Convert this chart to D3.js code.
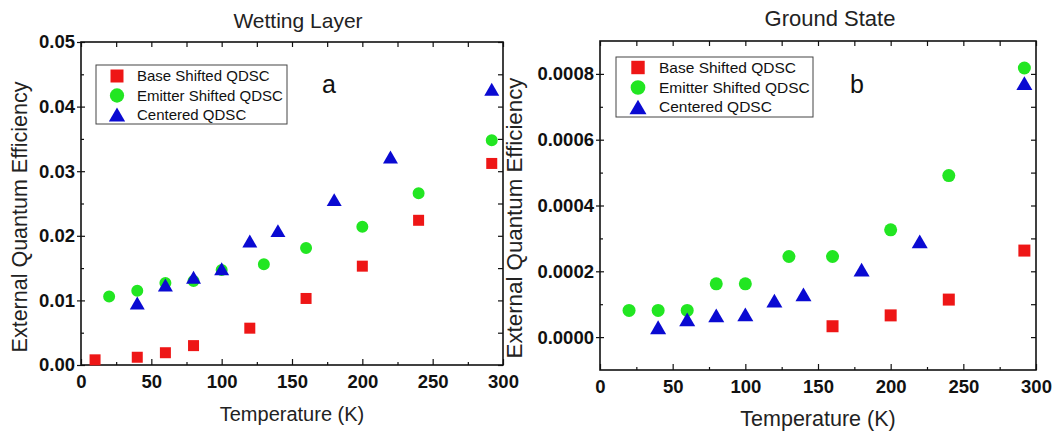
<!DOCTYPE html>
<html>
<head>
<meta charset="utf-8">
<script src="https://cdn.jsdelivr.net/npm/d3@7"></script>
<style>
    body { margin: 0; background: #fff; }
    svg text { font-family: 'Liberation Sans', Arial, sans-serif; }
</style>
</head>
<body>
<div class="chart"></div>
<script>
    'use strict';

    /* sorozatok */
    const seriesNames = ['Base Shifted QDSC', 'Emitter Shifted QDSC', 'Centered QDSC'];
    const seriesColors = ['#ee1616', '#22e622', '#0a0ad2'];
    const seriesShapes = [d3.symbolSquare, d3.symbolCircle, d3.symbolTriangle];

    /* x tengely (K) */
    const xTicks = [0, 50, 100, 150, 200, 250, 300];
    const xMinor = [25, 75, 125, 175, 225, 275];

    /* a: Wetting Layer */
    const wlBaseT = [10, 40, 60, 80, 120, 160, 200, 240, 292];
    const wlBaseEqe = [0.0008, 0.0012, 0.0019, 0.0030, 0.0057, 0.0103, 0.0153, 0.0224, 0.0312];
    const wlEmitT = [20, 40, 60, 80, 100, 130, 160, 200, 240, 292];
    const wlEmitEqe = [0.0106, 0.0115, 0.0127, 0.0130, 0.0147, 0.0156, 0.0181, 0.0214, 0.0266, 0.0348];
    const wlCentT = [40, 60, 80, 100, 120, 140, 180, 220, 292];
    const wlCentEqe = [0.0096, 0.0124, 0.0136, 0.0149, 0.0192, 0.0208, 0.0256, 0.0322, 0.0427];
    const wlYTicks = [0, 0.01, 0.02, 0.03, 0.04, 0.05];
    const wlYMinor = [0.005, 0.015, 0.025, 0.035, 0.045];

    /* b: Ground State */
    const gsBaseT = [160, 200, 240, 292];
    const gsBaseEqe = [0.000033, 0.000066, 0.000114, 0.000263];
    const gsEmitT = [20, 40, 60, 80, 100, 130, 160, 200, 240, 292];
    const gsEmitEqe = [0.000081, 0.000081, 0.000081, 0.000162, 0.000162, 0.000245, 0.000245, 0.000326, 0.000491, 0.000818];
    const gsCentT = [40, 60, 80, 100, 120, 140, 180, 220, 292];
    const gsCentEqe = [0.000030, 0.000054, 0.000066, 0.000069, 0.000111, 0.000130, 0.000205, 0.000291, 0.000772];
    const gsYTicks = [0, 0.0002, 0.0004, 0.0006, 0.0008];
    const gsYMinor = [0.0001, 0.0003, 0.0005, 0.0007];

    const svg = d3.select('.chart').append('svg')
        .attr('width', 1052)
        .attr('height', 433);

    const panels = [{
        left: 81, right: 503, top: 42, bottom: 365,
        yDomain: [0, 0.05], yTicks: wlYTicks, yMinor: wlYMinor, yFormat: d3.format('.2f'),
        series: [[wlBaseT, wlBaseEqe], [wlEmitT, wlEmitEqe], [wlCentT, wlCentEqe]],
        sizes: [121, 113, 97],
        tickFont: 18.5,
        title: 'Wetting Layer', titleX: 298, titleY: 28, titleSize: 21,
        letter: 'a', letterX: 329, letterY: 93,
        xTitleX: 292, xTitleY: 421, xTitleSize: 20,
        yTitleX: 27, yTitleY: 217, yTitleSize: 21.5,
        legend: { x: 96, y: 65, w: 191, h: 59, symX: 117, textX: 137, rows: [76, 95.5, 114.5], font: 15, sizes: [169, 160, 115] }
    }, {
        left: 600, right: 1036, top: 41, bottom: 370,
        yDomain: [-0.0001, 0.0009], yTicks: gsYTicks, yMinor: gsYMinor, yFormat: d3.format('.4f'),
        series: [[gsBaseT, gsBaseEqe], [gsEmitT, gsEmitEqe], [gsCentT, gsCentEqe]],
        sizes: [144, 133, 111],
        tickFont: 18.5,
        title: 'Ground State', titleX: 830, titleY: 26, titleSize: 22,
        letter: 'b', letterX: 857, letterY: 93,
        xTitleX: 818, xTitleY: 426, xTitleSize: 21.5,
        yTitleX: 522, yTitleY: 218, yTitleSize: 22.3,
        legend: { x: 616, y: 57, w: 197, h: 60, symX: 638, textX: 659, rows: [67.5, 87.5, 107], font: 15.5, sizes: [180, 170, 125] }
    }];

    panels.forEach(drawPanel);

    function drawPanel(p) {
        const x = d3.scaleLinear().domain([0, 300]).range([p.left, p.right]);
        const y = d3.scaleLinear().domain(p.yDomain).range([p.bottom, p.top]);
        const g = svg.append('g');

        /* tengelyek */
        const bottomAxis = g.append('g').attr('transform', 'translate(0,' + p.bottom + ')')
            .call(d3.axisBottom(x).tickValues(xTicks).tickFormat(d3.format('d'))
                .tickSizeInner(-6).tickSizeOuter(0).tickPadding(10));
        g.append('g').attr('transform', 'translate(0,' + p.bottom + ')')
            .call(d3.axisBottom(x).tickValues(xMinor).tickFormat('').tickSizeInner(-3).tickSizeOuter(0));
        g.append('g').attr('transform', 'translate(0,' + p.top + ')')
            .call(d3.axisTop(x).tickValues(xTicks.concat(xMinor)).tickFormat('').tickSizeInner(-5).tickSizeOuter(0));

        const leftAxis = g.append('g').attr('transform', 'translate(' + p.left + ',0)')
            .call(d3.axisLeft(y).tickValues(p.yTicks).tickFormat(p.yFormat)
                .tickSizeInner(-4).tickSizeOuter(0).tickPadding(6));
        g.append('g').attr('transform', 'translate(' + p.left + ',0)')
            .call(d3.axisLeft(y).tickValues(p.yTicks).tickFormat('').tickSizeInner(4).tickSizeOuter(0));
        g.append('g').attr('transform', 'translate(' + p.left + ',0)')
            .call(d3.axisLeft(y).tickValues(p.yMinor).tickFormat('').tickSizeInner(-3).tickSizeOuter(0));
        g.append('g').attr('transform', 'translate(' + p.right + ',0)')
            .call(d3.axisRight(y).tickValues(p.yTicks.concat(p.yMinor)).tickFormat('').tickSizeInner(-5).tickSizeOuter(0));

        g.selectAll('.domain').remove();
        g.selectAll('.tick line').attr('stroke', '#111').attr('stroke-width', 1.2);
        g.selectAll('.tick text')
            .style('font-size', p.tickFont + 'px')
            .style('font-weight', 700)
            .attr('fill', '#111');

        /* keret */
        g.append('rect')
            .attr('x', p.left).attr('y', p.top)
            .attr('width', p.right - p.left).attr('height', p.bottom - p.top)
            .attr('fill', 'none').attr('stroke', '#111').attr('stroke-width', 1.6);

        /* feliratok */
        g.append('text').text(p.title)
            .attr('x', p.titleX).attr('y', p.titleY)
            .attr('text-anchor', 'middle').attr('fill', '#222')
            .style('font-size', p.titleSize + 'px');
        g.append('text').text(p.letter)
            .attr('x', p.letterX).attr('y', p.letterY)
            .attr('text-anchor', 'middle').attr('fill', '#111')
            .style('font-size', '25px');
        g.append('text').text('Temperature (K)')
            .attr('x', p.xTitleX).attr('y', p.xTitleY)
            .attr('text-anchor', 'middle').attr('fill', '#222')
            .style('font-size', p.xTitleSize + 'px');
        g.append('text').text('External Quantum Efficiency')
            .attr('transform', 'translate(' + p.yTitleX + ',' + p.yTitleY + ') rotate(-90)')
            .attr('text-anchor', 'middle').attr('fill', '#222')
            .style('font-size', p.yTitleSize + 'px');

        /* pontok */
        p.series.forEach(function (s, i) {
            const sym = d3.symbol(seriesShapes[i], p.sizes[i]);
            const off = i === 2 ? Math.sqrt(p.sizes[i] / (Math.sqrt(3) * 3)) / 2 : 0;
            g.selectAll('.pt-' + i).data(d3.zip(s[0], s[1]))
                .join('path').attr('class', 'pt-' + i)
                .attr('d', sym)
                .attr('transform', function (d) {
                    return 'translate(' + x(d[0]) + ',' + (y(d[1]) + off) + ')';
                })
                .attr('fill', seriesColors[i]);
        });

        /* jelmagyarázat */
        const L = p.legend;
        const legend = g.append('g').attr('class', 'legend');
        legend.append('rect')
            .attr('x', L.x).attr('y', L.y).attr('width', L.w).attr('height', L.h)
            .attr('fill', '#fff').attr('stroke', '#444').attr('stroke-width', 1);
        seriesNames.forEach(function (name, i) {
            const off = i === 2 ? Math.sqrt(L.sizes[i] / (Math.sqrt(3) * 3)) / 2 : 0;
            legend.append('path')
                .attr('d', d3.symbol(seriesShapes[i], L.sizes[i]))
                .attr('transform', 'translate(' + L.symX + ',' + (L.rows[i] + off) + ')')
                .attr('fill', seriesColors[i]);
            legend.append('text').text(name)
                .attr('x', L.textX).attr('y', L.rows[i])
                .attr('dy', '.35em').attr('fill', '#111')
                .style('font-size', L.font + 'px');
        });
    }
</script>
</body>
</html>
